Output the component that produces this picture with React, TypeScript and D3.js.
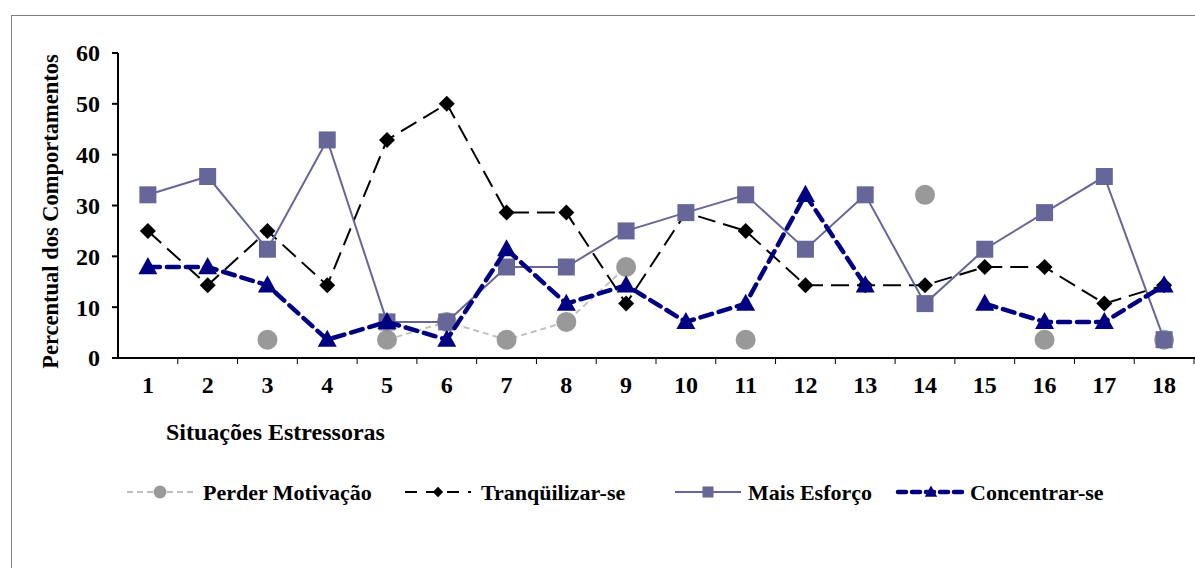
import React from "react";
import * as d3 from "d3";

const categories = ["1","2","3","4","5","6","7","8","9","10","11","12","13","14","15","16","17","18"];
const perderMotivacao: (number | null)[] = [null, null, 3.6, null, 3.6, 7.1, 3.6, 7.1, 17.9, null, 3.6, null, null, 32.1, null, 3.6, null, 3.6];
const tranquilizar: (number | null)[] = [25, 14.3, 25, 14.3, 42.9, 50, 28.6, 28.6, 10.7, 28.6, 25, 14.3, 14.3, 14.3, 17.9, 17.9, 10.7, 14.3];
const maisEsforco: (number | null)[] = [32.1, 35.7, 21.4, 42.9, 7.1, 7.1, 17.9, 17.9, 25, 28.6, 32.1, 21.4, 32.1, 10.7, 21.4, 28.6, 35.7, 3.6];
const concentrar: (number | null)[] = [17.9, 17.9, 14.3, 3.6, 7.1, 3.6, 21.4, 10.7, 14.3, 7.1, 10.7, 32.1, 14.3, null, 10.7, 7.1, 7.1, 14.3];
const yTicks = [0, 10, 20, 30, 40, 50, 60];
const seriesNames = ["Perder Motivação", "Tranqüilizar-se", "Mais Esforço", "Concentrar-se"];

const W = 1195, H = 568;
const FONT = "'Liberation Serif', 'Times New Roman', serif";

type Marker = "circle" | "diamond" | "square" | "triangle";
interface Series { name: string; values: (number | null)[]; stroke: string; width: number; dash: string; legendDash: string; marker: Marker; fill: string; size: number; }

const series: Series[] = [
  { name: seriesNames[0], values: perderMotivacao, stroke: "#C0C0C0", width: 2, dash: "6,4", legendDash: "6,4", marker: "circle", fill: "#999999", size: 10 },
  { name: seriesNames[1], values: tranquilizar, stroke: "#000000", width: 2, dash: "18,8", legendDash: "12,9", marker: "diamond", fill: "#000000", size: 8 },
  { name: seriesNames[2], values: maisEsforco, stroke: "#666699", width: 2, dash: "", legendDash: "", marker: "square", fill: "#666699", size: 8.5 },
  { name: seriesNames[3], values: concentrar, stroke: "#000080", width: 4.5, dash: "12,7", legendDash: "8,6", marker: "triangle", fill: "#000080", size: 9.5 },
];

function markerPath(m: Marker, s: number): string {
  if (m === "circle") return `M${-s},0A${s},${s} 0 1,0 ${s},0A${s},${s} 0 1,0 ${-s},0Z`;
  if (m === "diamond") return `M0,${-s}L${s},0L0,${s}L${-s},0Z`;
  if (m === "square") return `M${-s},${-s}H${s}V${s}H${-s}Z`;
  return `M0,${-s * 1.05}L${s},${s * 0.75}L${-s},${s * 0.75}Z`;
}

export default function App() {
  const x0 = 118, x1 = 1194, yTop = 53, yBot = 358;
  const x = d3.scaleBand<string>().domain(categories).range([x0, x1]);
  const y = d3.scaleLinear().domain([0, 60]).range([yBot, yTop]);
  const cx = (c: string) => (x(c) as number) + x.bandwidth() / 2;

  const legendItems = [
    { lx: 127, tx: 203 },
    { lx: 405, tx: 481 },
    { lx: 675, tx: 748 },
    { lx: 898, tx: 970 },
  ];

  return (
    <svg width={W} height={H} style={{ position: "absolute", left: 0, top: 0, background: "#fff" }} fontFamily={FONT}>
      <rect x={11.5} y={15.5} width={W + 10} height={H + 10} fill="#fff" stroke="#808080" strokeWidth={1} />
      {/* y axis */}
      <line x1={x0} x2={x0} y1={yTop} y2={yBot} stroke="#000" strokeWidth={2} />
      {yTicks.map((t) => (
        <g key={t}>
          <line x1={x0 - 6} x2={x0} y1={y(t)} y2={y(t)} stroke="#000" strokeWidth={2} />
          <text x={100} y={y(t)} dy="0.35em" textAnchor="end" fontSize={24} fontWeight="bold">{t}</text>
        </g>
      ))}
      {/* x axis */}
      <line x1={x0} x2={x1 + 2} y1={yBot} y2={yBot} stroke="#000" strokeWidth={2} />
      {categories.map((c) => (
        <g key={c}>
          <line x1={(x(c) as number) + x.bandwidth()} x2={(x(c) as number) + x.bandwidth()} y1={yBot} y2={yBot + 6} stroke="#000" strokeWidth={1} />
          <text x={cx(c)} y={393} textAnchor="middle" fontSize={24} fontWeight="bold">{c}</text>
        </g>
      ))}
      <text transform={`translate(58,${(yTop + yBot) / 2 + 6}) rotate(-90)`} textAnchor="middle" fontSize={22.5} fontWeight="bold">Percentual dos Comportamentos</text>
      <text x={166} y={440} fontSize={24} fontWeight="bold">Situações Estressoras</text>

      {series.map((s) => {
        const line = d3.line<number | null>()
          .defined((d) => d !== null)
          .x((_, i) => cx(categories[i]))
          .y((d) => y(d as number));
        return (
          <g key={s.name}>
            <path d={line(s.values) || ""} fill="none" stroke={s.stroke} strokeWidth={s.width} strokeDasharray={s.dash || undefined} strokeLinecap={s.width > 2 ? "round" : "butt"} />
            {s.values.map((v, i) => v === null ? null : (
              <path key={i} d={markerPath(s.marker, s.size)} transform={`translate(${cx(categories[i])},${y(v)})`} fill={s.fill} />
            ))}
          </g>
        );
      })}

      {series.map((s, k) => {
        const it = legendItems[k];
        const ly = 492;
        return (
          <g key={"lg" + k}>
            <line x1={it.lx} x2={it.lx + 66} y1={ly} y2={ly} stroke={s.stroke} strokeWidth={s.width} strokeDasharray={s.legendDash || undefined} strokeLinecap={s.width > 2 ? "round" : "butt"} />
            <path d={markerPath(s.marker, s.size * 0.65)} transform={`translate(${it.lx + 33},${ly})`} fill={s.fill} />
            <text x={it.tx} y={ly} dy="0.35em" fontSize={22} fontWeight="bold">{s.name}</text>
          </g>
        );
      })}
    </svg>
  );
}
